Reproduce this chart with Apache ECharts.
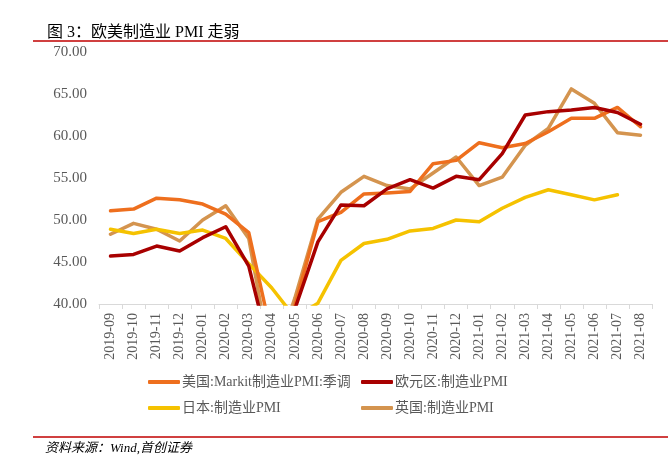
<!DOCTYPE html>
<html>
<head>
<meta charset="utf-8">
<script src="https://cdn.jsdelivr.net/npm/echarts@6/dist/echarts.min.js"></script>
<style>html,body{margin:0;padding:0;background:#fff;}#c{width:668px;height:455px;}</style>
</head>
<body>
<div id="c"></div>
<script>
const categories = ['2019-09','2019-10','2019-11','2019-12','2020-01','2020-02','2020-03','2020-04','2020-05','2020-06','2020-07','2020-08','2020-09','2020-10','2020-11','2020-12','2021-01','2021-02','2021-03','2021-04','2021-05','2021-06','2021-07','2021-08'];
const usPMI = [51.1,51.3,52.6,52.4,51.9,50.7,48.5,36.1,39.8,49.8,50.9,53.1,53.2,53.4,56.7,57.1,59.2,58.6,59.1,60.5,62.1,62.1,63.4,61.1];
const euroPMI = [45.7,45.9,46.9,46.3,47.9,49.2,44.5,33.4,39.4,47.4,51.8,51.7,53.7,54.8,53.8,55.2,54.8,57.9,62.5,62.9,63.1,63.4,62.8,61.4];
const japanPMI = [48.9,48.4,48.9,48.4,48.8,47.8,44.8,41.9,38.4,40.1,45.2,47.2,47.7,48.7,49.0,50.0,49.8,51.4,52.7,53.6,53.0,52.4,53.0,null];
const ukPMI = [48.3,49.6,48.9,47.5,50.0,51.7,47.8,32.6,40.7,50.1,53.3,55.2,54.1,53.7,55.6,57.5,54.1,55.1,58.9,60.9,65.6,63.9,60.4,60.1];
const yTicks = [40,45,50,55,60,65,70];

const names = ['美国:Markit制造业PMI:季调','欧元区:制造业PMI','日本:制造业PMI','英国:制造业PMI'];
const colors = ['#EE6F1E','#A80000','#F5C200','#D4944F'];
const FONT = '"Liberation Serif", "Noto Sans CJK SC", serif';

const chart = echarts.init(document.getElementById('c'));
function mk(name, data, color, z) {
  return {
    name: name, type: 'line', data: data, symbol: 'none', z: z,
    lineStyle: { width: 3.5, color: color, cap: 'round', join: 'round' },
    itemStyle: { color: color },
    connectNulls: false
  };
}
const legendCommon = {
  orient: 'vertical', itemWidth: 32, itemHeight: 4, itemGap: 12,
  textStyle: { fontFamily: FONT, fontSize: 14, color: '#595959', padding: [0,0,0,-3] },
  icon: 'roundRect'
};
chart.setOption({
  animation: false,
  backgroundColor: '#fff',
  color: colors,
  title: {
    text: '图 3：欧美制造业 PMI 走弱', left: 42, top: 20,
    textStyle: { fontFamily: FONT, fontSize: 16, fontWeight: 'normal', color: '#000' }
  },
  grid: { left: 99, right: 16, top: 52, bottom: 151, containLabel: false },
  legend: [
    Object.assign({ data: [names[0], names[2]], left: 143, top: 370 }, legendCommon),
    Object.assign({ data: [names[1], names[3]], left: 356, top: 370 }, legendCommon)
  ],
  xAxis: {
    type: 'category', data: categories, boundaryGap: true,
    axisLine: { lineStyle: { color: '#D9D9D9', width: 1 } },
    axisTick: { show: true, length: 5, lineStyle: { color: '#D9D9D9' } },
    axisLabel: { rotate: 90, interval: 0, fontFamily: FONT, fontSize: 14, color: '#595959', margin: 9 }
  },
  yAxis: {
    type: 'value', min: 40, max: 70, interval: 5,
    axisLine: { show: false }, axisTick: { show: false }, splitLine: { show: false },
    axisLabel: {
      fontFamily: FONT, fontSize: 15, color: '#595959', margin: 12,
      formatter: v => yTicks.includes(v) ? v.toFixed(2) : ''
    }
  },
  series: [
    mk(names[0], usPMI, colors[0], 3),
    mk(names[1], euroPMI, colors[1], 4),
    mk(names[2], japanPMI, colors[2], 2),
    mk(names[3], ukPMI, colors[3], 1)
  ],
  graphic: [
    { type: 'line', shape: { x1: 33, y1: 41, x2: 668, y2: 41 }, style: { stroke: '#C00000', lineWidth: 1.5 } },
    { type: 'line', shape: { x1: 33, y1: 437, x2: 668, y2: 437 }, style: { stroke: '#C00000', lineWidth: 1.5 } },
    { type: 'text', left: 45, top: 442, style: { text: '资料来源：Wind,首创证券', font: 'italic 13px ' + FONT, fill: '#000' } }
  ]
});
</script>
</body>
</html>
